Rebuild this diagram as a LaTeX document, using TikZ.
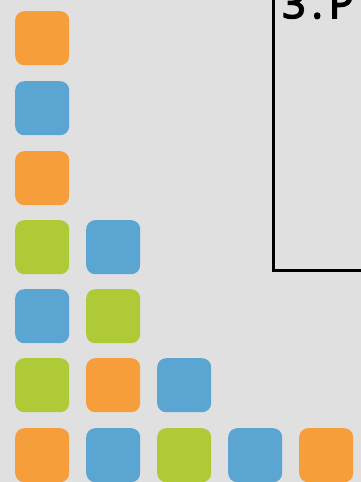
\documentclass[tikz,border=0pt]{standalone}
\usepackage{fontspec}
\setmainfont{Open Sans}
\newfontfamily\titlefont{Open Sans}[LetterSpace=15, FakeBold=4]
\definecolor{bg}{HTML}{E0E0E0}
\definecolor{tileorange}{HTML}{F59E3B}
\definecolor{tileblue}{HTML}{5BA5D2}
\definecolor{tilegreen}{HTML}{AFCA37}
\tikzset{
  tile/.style={rounded corners=9pt, minimum size=54pt, inner sep=0pt, anchor=north west},
  o/.style={tile, fill=tileorange},
  b/.style={tile, fill=tileblue},
  g/.style={tile, fill=tilegreen},
}
\begin{document}
\begin{tikzpicture}[x=1pt,y=-1pt]
\useasboundingbox (0,0) rectangle (361,482);
\fill[bg] (0,0) rectangle (361,482);
\clip (0,0) rectangle (361,482);
% tiles
\node[o] (r1a) at (15,11) {};
\node[b] (r2a) at (15,81) {};
\node[o] (r3a) at (15,151) {};
\node[g] (r4a) at (15,220) {};
\node[b] (r4b) at (86,220) {};
\node[b] (r5a) at (15,289) {};
\node[g] (r5b) at (86,289) {};
\node[g] (r6a) at (15,358) {};
\node[o] (r6b) at (86,358) {};
\node[b] (r6c) at (157,358) {};
\node[o] (r7a) at (15,428) {};
\node[b] (r7b) at (86,428) {};
\node[g] (r7c) at (157,428) {};
\node[b] (r7d) at (228,428) {};
\node[o] (r7e) at (299,428) {};
% framed box
\draw[line width=3pt] (273,-20) -- (273,270) -- (380,270);
\node[anchor=base west, inner sep=0pt, font=\titlefont\fontsize{41}{48}\selectfont] (title) at (282,18) {3.P};
\end{tikzpicture}
\end{document}
